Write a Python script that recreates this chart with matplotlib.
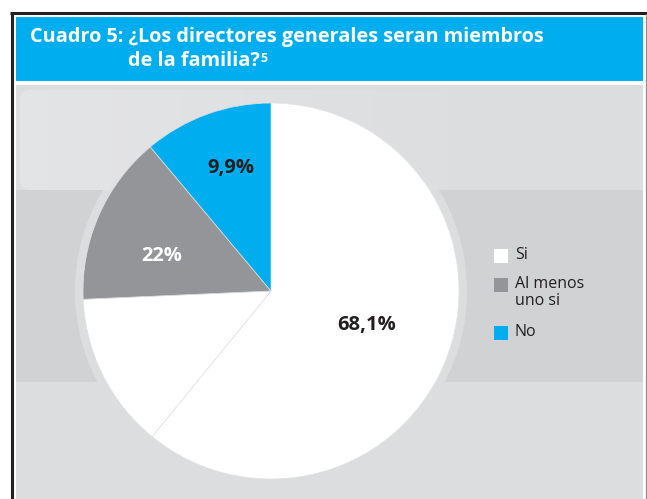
import matplotlib
matplotlib.use('Agg')
import matplotlib.pyplot as plt
import numpy as np
from matplotlib.patches import Rectangle, Circle, FancyBboxPatch

plt.rcParams['font.family'] = ['Open Sans', 'DejaVu Sans']

# datos
categorias = ['Si', 'Al menos\nuno si', 'No']
etiquetas = ['68,1%', '22%', '9,9%']
# tamaños de las porciones tal como aparecen dibujadas (la segunda porcion blanca no tiene etiqueta)
porciones = [60.9, 13.4, 14.6, 11.1]
colores_porciones = ['#ffffff', '#ffffff', '#939598', '#00aeef']
colores = ['#ffffff', '#939598', '#00aeef']
idx_etiqueta = [0, 2, 3]  # porcion que lleva cada etiqueta
color_texto = ['#231f20', '#ffffff', '#231f20']
dist_etiqueta = [0.54, 0.61, 0.69]
giro_etiqueta = [0, 6, -2]  # grados extra para colocar el texto

titulo1 = 'Cuadro 5: ¿Los directores generales seran miembros'
titulo2 = 'de la familia?'
nota = '5'

W, H = 647, 499
fig = plt.figure(figsize=(W / 100, H / 100), dpi=100)
fig.patch.set_facecolor('white')

# fondo en coordenadas de pixel
bg = fig.add_axes([0, 0, 1, 1])
bg.set_xlim(0, W)
bg.set_ylim(H, 0)
bg.axis('off')

bg.add_patch(Rectangle((16, 17), 627, 64, facecolor='#00aeef', edgecolor='none'))
bg.add_patch(Rectangle((16, 85), 627, 420, facecolor='#dcdddf', edgecolor='none'))
bg.add_patch(Rectangle((16, 190), 627, 192, facecolor='#d1d2d4', edgecolor='none'))

# halo del pastel (solo se nota sobre la franja oscura)
cx, cy, r = 271, 291, 188
bg.add_patch(Circle((cx, cy), r + 8, facecolor='#dcdddf', edgecolor='none', zorder=1))

# brillo arriba a la izquierda
caja = FancyBboxPatch((20, 90), 610, 100, boxstyle='round,pad=0,rounding_size=10',
                      facecolor='none', edgecolor='none')
bg.add_patch(caja)
grad = np.zeros((10, 200, 4))
grad[..., :3] = 1.0
grad[..., 3] = np.clip(np.linspace(0.22, -0.05, 200), 0, None)[None, :]
im = bg.imshow(grad, extent=(20, 630, 190, 90), aspect='auto', zorder=2)
im.set_clip_path(caja)

# bordes
bg.plot([11.5, 11.5], [12.5, H], color='#231f20', lw=2.2, solid_capstyle='butt')
bg.plot([10, W], [12.5, 12.5], color='#231f20', lw=2.2, solid_capstyle='butt')
bg.plot([645.5, 645.5], [14, H], color='#8a8a8a', lw=0.8)

# titulo
bg.text(30, 37, titulo1, color='white', fontsize=14.3, fontweight='bold', va='center', ha='left')
bg.text(128, 61, titulo2, color='white', fontsize=14.3, fontweight='bold', va='center', ha='left')
bg.text(260, 58, nota, color='white', fontsize=9, fontweight='bold', va='center', ha='left')

# pastel
ax = fig.add_axes([(cx - r) / W, (H - cy - r) / H, 2 * r / W, 2 * r / H])
wedges, _ = ax.pie(porciones, colors=colores_porciones, startangle=90, counterclock=False,
                   radius=1, wedgeprops=dict(edgecolor='#e2e2e2', linewidth=0.5))
ax.set_xlim(-1, 1)
ax.set_ylim(-1, 1)
ax.axis('off')

for txt, i, c, d, g in zip(etiquetas, idx_etiqueta, color_texto, dist_etiqueta, giro_etiqueta):
    w = wedges[i]
    ang = np.deg2rad((w.theta1 + w.theta2) / 2 + g)
    ax.text(d * np.cos(ang), d * np.sin(ang), txt, ha='center', va='center',
            fontsize=14.5, fontweight='bold', color=c)

# leyenda
y_cuadro = [249, 278, 326]
for cat, col, y in zip(categorias, colores, y_cuadro):
    bg.add_patch(Rectangle((494, y), 14, 14, facecolor=col, edgecolor='none', zorder=3))
    bg.text(515, y - 2, cat, ha='left', va='top', fontsize=11.5, color='#231f20',
            linespacing=1.1, zorder=3)

fig.savefig('out.png', dpi=100)
